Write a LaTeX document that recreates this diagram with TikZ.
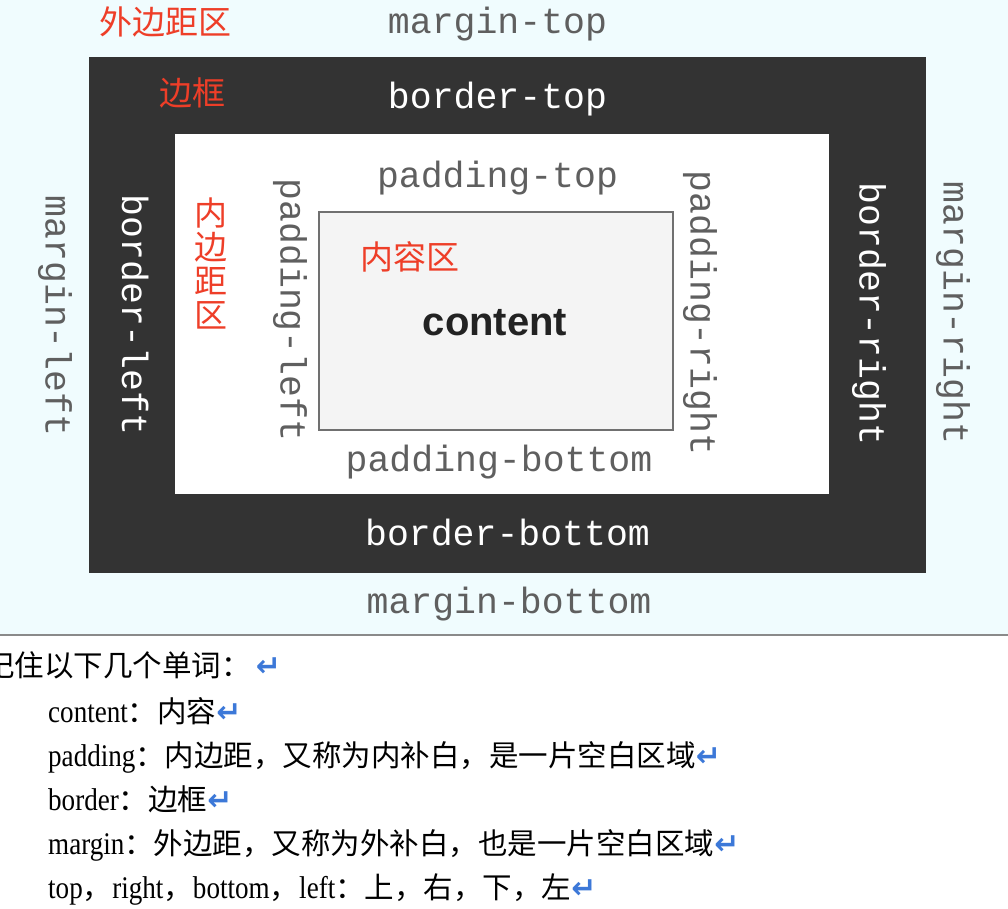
\documentclass[tikz,border=0pt]{standalone}
\usepackage{fontspec}
\setmainfont{Liberation Serif}[FakeStretch=0.86]
\newfontfamily\cjk{Noto Sans CJK SC}
\newfontfamily\monofam{Liberation Mono}
\newfontfamily\arialfam{Liberation Sans}
\newfontfamily\dvfam{DejaVu Sans}
\definecolor{bgcyan}{RGB}{240,252,254}
\definecolor{darkbox}{RGB}{51,51,51}
\definecolor{graytext}{RGB}{95,95,95}
\definecolor{redlabel}{RGB}{238,62,40}
\definecolor{retblue}{RGB}{60,120,216}
\definecolor{contentfill}{RGB}{244,244,244}
\definecolor{contentdraw}{RGB}{112,112,112}
\newcommand\zh[1]{{\cjk\fontsize{29.5}{32}\selectfont #1}}
\newcommand\retmark{{\dvfam\bfseries\color{retblue}\fontsize{30}{30}\selectfont ↵}}
\tikzset{
  x=1pt, y=-1pt,
  monolabel/.style={inner sep=0pt, font=\monofam\fontsize{36.5}{40}\selectfont},
  graylabel/.style={monolabel, text=graytext},
  whitelabel/.style={monolabel, text=white},
  redtext/.style={inner sep=0pt, text=redlabel, font=\cjk\fontsize{33}{34}\selectfont},
  noteline/.style={anchor=base west, inner sep=0pt, font=\fontsize{31.5}{34}\selectfont},
}
\begin{document}
\begin{tikzpicture}
\useasboundingbox (0,0) rectangle (1008,908);
\fill[white] (0,0) rectangle (1008,908);
% margin area
\fill[bgcyan] (0,0) rectangle (1008,634);
\draw[line width=2pt, color={rgb,255:red,138;green,138;blue,138}] (0,635) -- (1008,635);
% border box
\fill[darkbox] (89,57) rectangle (926,573);
% padding box
\fill[white] (175,134) rectangle (829,494);
% content box
\draw[fill=contentfill, draw=contentdraw, line width=1.5pt] (319,212) rectangle (673,430);

% labels
\node[graylabel] (mt) at (497.5,24) {margin-top};
\node[whitelabel] (bt) at (497.5,99) {border-top};
\node[graylabel] (pt) at (497.5,178) {padding-top};
\node[graylabel] (pb) at (499,462) {padding-bottom};
\node[whitelabel] (bb) at (507.5,532) {border-bottom};
\node[graylabel] (mb) at (509,604) {margin-bottom};

\node[graylabel, rotate=-90] (ml) at (55,316) {margin-left};
\node[whitelabel, rotate=-90] (bl) at (135,315) {border-left};
\node[graylabel, rotate=-90] (pl) at (290,310) {padding-left};
\node[graylabel, rotate=-90] (pr) at (700,313) {padding-right};
\node[whitelabel, rotate=-90] (br) at (869,314) {border-right};
\node[graylabel, rotate=-90] (mr) at (953,313) {margin-right};

\node[redtext] (zmargin) at (165,22) {外边距区};
\node[redtext] (zborder) at (192,93) {边框};
\node[redtext] (zcontent) at (410,257) {内容区};
\node[redtext, align=center, font=\cjk\fontsize{33}{34}\selectfont] (zpadding) at (211,263) {内\\边\\距\\区};

\node[inner sep=0pt, text={rgb,255:red,34;green,34;blue,34}, font=\arialfam\bfseries\fontsize{40}{44}\selectfont] (content) at (495,323) {content};

% notes
\node[noteline] (n1) at (-15,676) {\zh{记住以下几个单词：}\,\retmark};
\node[noteline] (n2) at (48,722) {content\zh{：内容}\retmark};
\node[noteline] (n3) at (48,766) {padding\zh{：内边距，又称为内补白，是一片空白区域}\retmark};
\node[noteline] (n4) at (48,810) {border\zh{：边框}\retmark};
\node[noteline] (n5) at (48,854) {margin\zh{：外边距，又称为外补白，也是一片空白区域}\retmark};
\node[noteline] (n6) at (48,898) {top\zh{，}right\zh{，}bottom\zh{，}left\zh{：上，右，下，左}\retmark};
\end{tikzpicture}
\end{document}
